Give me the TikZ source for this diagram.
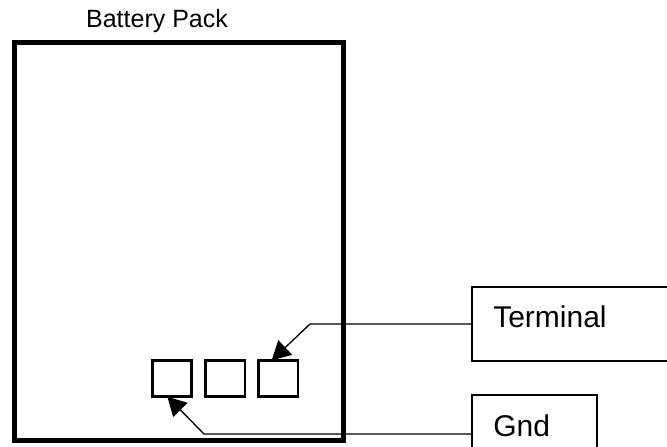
\documentclass[tikz,border=0pt]{standalone}
\usepackage{fontspec}
\setmainfont{Liberation Sans}
\usetikzlibrary{arrows.meta,positioning}

\begin{document}
\begin{tikzpicture}[
  x=0.75pt, y=-0.75pt,
  node distance=10.4pt,
  pack/.style={draw, line width=3.75pt, minimum width=246.75pt, minimum height=298.5pt, inner sep=0pt},
  pad/.style={draw, line width=2pt, minimum width=29.5pt, minimum height=27.2pt, inner sep=0pt, outer sep=0pt},
  tag/.style={draw, line width=1pt, inner sep=0pt},
  lbl/.style={inner sep=0pt, font=\fontsize{22.5}{27}\selectfont},
  arr/.style={-{Triangle[length=14pt, width=15pt]}, line width=1pt}
]
\path[use as bounding box, clip] (0,0) rectangle (667,446);
% battery pack outline
\node[pack] (pack) at (179,241.5) {};
\node[anchor=base, inner sep=0pt, font=\fontsize{18.75}{22}\selectfont] (title) at (157,27) {Battery Pack};
% contact pads
\node[pad] (pad1) at (172,378.5) {};
\node[pad, right=of pad1] (pad2) {};
\node[pad, right=of pad2] (pad3) {};
% callout boxes
\node[tag, minimum width=163.5pt, minimum height=55.5pt] (term) at (581,324) {};
\node[lbl, anchor=base west] (termtext) at (493,327) {Terminal};
\node[tag, minimum width=93.75pt, minimum height=58.5pt] (gnd) at (534.5,434) {};
\node[lbl, anchor=base west] (gndtext) at (493,436) {Gnd};
% leader lines
\coordinate (tbend) at (310,324);
\coordinate (gbend) at (204,434);
\draw[arr] (term.west) -- (tbend) -- ([xshift=-5pt]pad3.north);
\draw[arr] (gnd.west) -- (gbend) -- ([xshift=-3.5pt]pad1.south);
\end{tikzpicture}
\end{document}
